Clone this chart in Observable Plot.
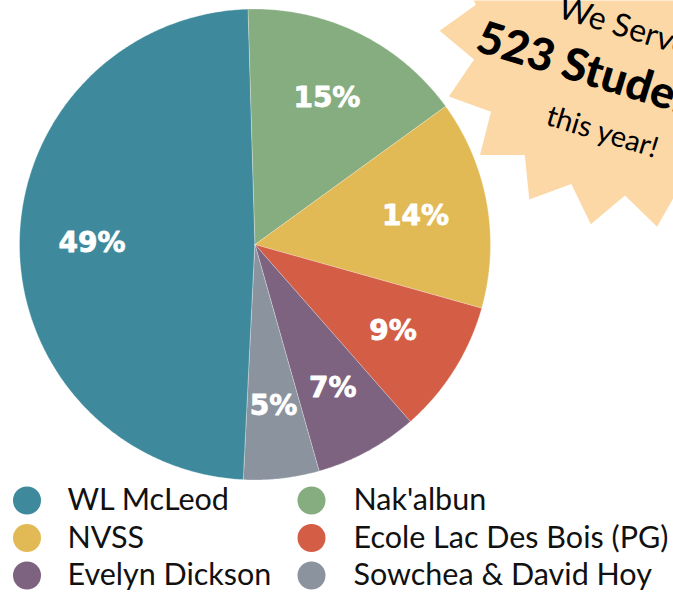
<!DOCTYPE html>
<html>
<head>
<meta charset="utf-8">
<script src="https://cdn.jsdelivr.net/npm/d3@7"></script>
<script src="https://cdn.jsdelivr.net/npm/@observablehq/plot@0.6"></script>
<style>
  html, body { margin: 0; padding: 0; background: #fff; }
  #chart svg { display: block; }
</style>
</head>
<body>
<div id="chart"></div>
<script>
// ---- data ----
const schools = ["WL McLeod", "Nak'albun", "NVSS", "Ecole Lac Des Bois (PG)", "Evelyn Dickson", "Sowchea & David Hoy"];
const students = [255, 81, 75, 48, 37, 27];
const colors = ["#3E8A9C", "#86AD80", "#E2BA55", "#D45D45", "#7E6381", "#8B939F"];
const starLines = ["We Served", "523 Students", "this year!"];

// ---- layout ----
const W = 673, H = 592;
const cx = 254.5, cy = 244, R = 235.5, labelR = 163;
const total = d3.sum(students);
const startDeg = -1.7 - students[0] / total * 360;
const s0 = startDeg * Math.PI / 180;
const arcs = d3.pie().sort(null).value(d => d).startAngle(s0).endAngle(s0 + 2 * Math.PI)(students);
const pt = (a, r) => [cx + r * Math.sin(a), cy - r * Math.cos(a)];

const slices = arcs.map((a, i) => {
  const n = Math.max(2, Math.ceil((a.endAngle - a.startAngle) / (Math.PI / 360)));
  const ring = [[cx, cy], ...d3.range(n + 1).map(k => pt(a.startAngle + (a.endAngle - a.startAngle) * k / n, R)), [cx, cy]];
  return {type: "Feature", properties: {name: schools[i]}, geometry: {type: "Polygon", coordinates: [ring]}};
});

const labels = arcs.map((a, i) => {
  const [x, y] = pt((a.startAngle + a.endAngle) / 2, labelR);
  return {x, y, text: Math.round(students[i] / total * 100) + "%"};
});

// starburst annotation
const starN = 18, starC = [630, 37], starRo = 191, starRi = 158, starTip0 = 182;
const starRing = d3.range(starN * 2 + 1).map(k => {
  const t = (starTip0 - k * 180 / starN) * Math.PI / 180;
  const r = k % 2 ? starRi : starRo;
  return [starC[0] + r * Math.cos(t), starC[1] + r * Math.sin(t)];
});
const rot = 17, rr = rot * Math.PI / 180;
const along = [613, 601, 614], perp = [-157, -105, -50];
const starSize = [32, 45, 29];
const starText = starLines.map((t, i) => ({
  text: t,
  x: along[i] * Math.cos(rr) - perp[i] * Math.sin(rr),
  y: along[i] * Math.sin(rr) + perp[i] * Math.cos(rr),
  size: starSize[i],
  bold: i === 1
}));

// legend layout
const legend = schools.map((s, i) => ({name: s, col: i % 2, row: Math.floor(i / 2)}));
const dotX = [26.5, 311], textX = [67, 353], rowY0 = 500, rowStep = 37.5;

const chart = Plot.plot({
  width: W,
  height: H,
  margin: 0,
  projection: {type: "identity"},
  color: {domain: schools, range: colors},
  style: {background: "white"},
  marks: [
    Plot.geo(slices, {fill: d => d.properties.name, stroke: "white", strokeWidth: 0.6, strokeOpacity: 0.5}),
    Plot.text(labels, {x: "x", y: "y", text: "text", fill: "white", stroke: "white", strokeWidth: 0.8,
      fontSize: 28, fontWeight: "bold", fontFamily: "DejaVu Sans", ariaLabel: "pct-labels"}),
    Plot.geo([{type: "Feature", properties: {}, geometry: {type: "Polygon", coordinates: [starRing]}}],
      {fill: "#FCD8A6", ariaLabel: "star"}),
    Plot.text(starText.filter(d => !d.bold), {x: "x", y: "y", text: "text", rotate: rot, fontSize: "size",
      fontFamily: "Lato", fill: "#000"}),
    Plot.text(starText.filter(d => d.bold), {x: "x", y: "y", text: "text", rotate: rot, fontSize: "size",
      fontWeight: 900, fontFamily: "Lato", fill: "#000"}),
    Plot.dot(legend, {x: d => dotX[d.col], y: d => rowY0 + d.row * rowStep, r: 14, fill: "name"}),
    Plot.text(legend, {x: d => textX[d.col], y: d => rowY0 + d.row * rowStep, text: "name", textAnchor: "start",
      fontSize: 30.5, fontFamily: "Lato", fill: "#111"})
  ]
});

const pl = chart.querySelector('g[aria-label="pct-labels"]');
if (pl) pl.style.filter = "drop-shadow(0px 2px 2px rgba(0,0,0,0.55))";
const st = chart.querySelector('g[aria-label="star"]');
if (st) st.style.filter = "drop-shadow(4px 5px 4px rgba(0,0,0,0.4))";
document.getElementById("chart").appendChild(chart);
</script>
</body>
</html>
